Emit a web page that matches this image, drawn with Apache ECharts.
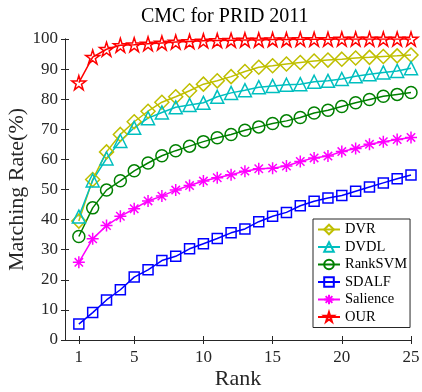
<!DOCTYPE html>
<html>
<head>
<meta charset="utf-8">
<script src="https://cdn.jsdelivr.net/npm/echarts@6/dist/echarts.min.js"></script>
<style>
  html, body { margin: 0; padding: 0; background: #fff; }
  #chart { width: 422px; height: 392px; }
</style>
</head>
<body>
<div id="chart"></div>
<script>
// ranks 1..25
const ranks = [1,2,3,4,5,6,7,8,9,10,11,12,13,14,15,16,17,18,19,20,21,22,23,24,25];
const xTicks = [1, 5, 10, 15, 20, 25];

const dvr      = [39.5,53.3,62.5,68.3,72.5,76.0,79.0,80.8,82.8,85.0,86.1,87.5,89.2,90.6,91.1,91.7,92.2,92.7,93.0,93.3,93.7,93.9,94.2,94.4,94.7];
const dvdl     = [41.0,53.0,60.3,66.1,70.5,73.7,75.6,77.3,78.1,78.8,80.8,82.1,83.0,84.0,84.4,84.8,85.0,85.8,86.1,86.7,87.6,88.3,88.9,89.4,90.3];
const rankSvm  = [34.4,43.9,49.8,52.9,56.2,58.8,61.2,62.9,64.4,65.9,67.2,68.3,69.7,70.8,71.9,72.8,73.9,75.4,76.3,77.6,78.8,79.9,81.0,81.6,82.2];
const sdalf    = [5.3,9.1,13.3,16.7,20.9,23.3,26.4,27.8,30.3,32.0,33.7,35.6,36.9,39.3,41.1,42.4,44.6,46.1,47.2,48.0,49.4,50.8,52.2,53.6,54.8];
const salience = [25.8,33.6,38.0,41.1,43.6,46.2,47.8,49.8,51.3,52.8,53.9,54.9,56.1,56.9,57.1,57.8,59.3,60.5,61.1,62.6,63.6,65.0,65.9,66.6,67.3];
const our      = [85.5,94.0,96.6,97.9,98.1,98.4,98.7,99.0,99.2,99.4,99.5,99.6,99.7,99.7,99.8,99.8,99.9,99.9,99.9,100,100,100,100,100,100];

const font = 'Liberation Serif';
const ink = '#262626';

const asteriskPath = 'path://M0,-1L0,1M-1,0L1,0M-0.7,-0.7L0.7,0.7M-0.7,0.7L0.7,-0.7';
const starPath = 'path://M0,-1L0.225,-0.309L0.951,-0.309L0.363,0.118L0.588,0.809L0,0.382L-0.588,0.809L-0.363,0.118L-0.951,-0.309L-0.225,-0.309Z';

function makeSeries(name, values, color, symbol, size) {
    return {
        name: name,
        type: 'line',
        data: ranks.map((r, i) => [r, values[i]]),
        symbol: symbol,
        symbolSize: size,
        showAllSymbol: true,
        lineStyle: { color: color, width: 1.5 },
        itemStyle: { color: 'rgba(255,255,255,0)', borderColor: color, borderWidth: 1.5 },
        emphasis: { disabled: true },
        animation: false
    };
}

const chart = echarts.init(document.getElementById('chart'));
chart.setOption({
    animation: false,
    title: {
        text: 'CMC for PRID 2011',
        left: 136,
        top: 2,
        textStyle: { fontFamily: font, fontSize: 20, fontWeight: 'normal', color: '#000' }
    },
    grid: { left: 65, right: 11, top: 39, bottom: 52, outerBoundsMode: 'none' },
    legend: {
        orient: 'vertical',
        left: 313,
        top: 219,
        padding: [3, 3, 3, 4],
        itemWidth: 22,
        itemHeight: 12,
        itemGap: 2.5,
        backgroundColor: '#fff',
        borderColor: ink,
        borderWidth: 1,
        borderRadius: 0,
        textStyle: { fontFamily: font, fontSize: 14.5, lineHeight: 13, color: '#000' },
        data: ['DVR', 'DVDL', 'RankSVM', 'SDALF', 'Salience', 'OUR']
    },
    xAxis: [{
        type: 'value',
        min: 0,
        max: 25,
        name: 'Rank',
        nameLocation: 'middle',
        nameGap: 28,
        nameMoveOverlap: false,
        nameTextStyle: { fontFamily: font, fontSize: 22, color: ink },
        axisLine: { lineStyle: { color: ink, width: 1 } },
        axisTick: { inside: true, length: 4, customValues: xTicks, lineStyle: { color: ink } },
        axisLabel: { customValues: xTicks, fontFamily: font, fontSize: 17, color: ink, margin: 9 },
        splitLine: { show: false }
    }, {
        type: 'value',
        position: 'top',
        min: 0,
        max: 25,
        axisLine: { lineStyle: { color: ink, width: 1 } },
        axisTick: { inside: true, length: 4, customValues: xTicks, lineStyle: { color: ink } },
        axisLabel: { show: false },
        splitLine: { show: false }
    }],
    yAxis: [{
        type: 'value',
        min: 0,
        max: 100,
        interval: 10,
        name: 'Matching Rate(%)',
        nameLocation: 'middle',
        nameGap: 37,
        nameMoveOverlap: false,
        nameTextStyle: { fontFamily: font, fontSize: 22, color: ink },
        axisLine: { show: true, lineStyle: { color: ink, width: 1 } },
        axisTick: { show: true, inside: true, length: 4, lineStyle: { color: ink } },
        axisLabel: { fontFamily: font, fontSize: 17, color: ink, margin: 7 },
        splitLine: { show: false }
    }, {
        type: 'value',
        position: 'right',
        min: 0,
        max: 100,
        interval: 10,
        axisLine: { show: true, lineStyle: { color: ink, width: 1 } },
        axisTick: { show: true, inside: true, length: 4, lineStyle: { color: ink } },
        axisLabel: { show: false },
        splitLine: { show: false }
    }],
    series: [
        makeSeries('DVR', dvr, '#bfbf00', 'diamond', 14),
        makeSeries('DVDL', dvdl, '#00bfbf', 'triangle', 13),
        makeSeries('RankSVM', rankSvm, '#008000', 'circle', 12),
        makeSeries('SDALF', sdalf, '#0000ff', 'rect', 10),
        makeSeries('Salience', salience, '#ff00ff', asteriskPath, 12),
        makeSeries('OUR', our, '#ff0000', starPath, 14)
    ]
});
</script>
</body>
</html>
